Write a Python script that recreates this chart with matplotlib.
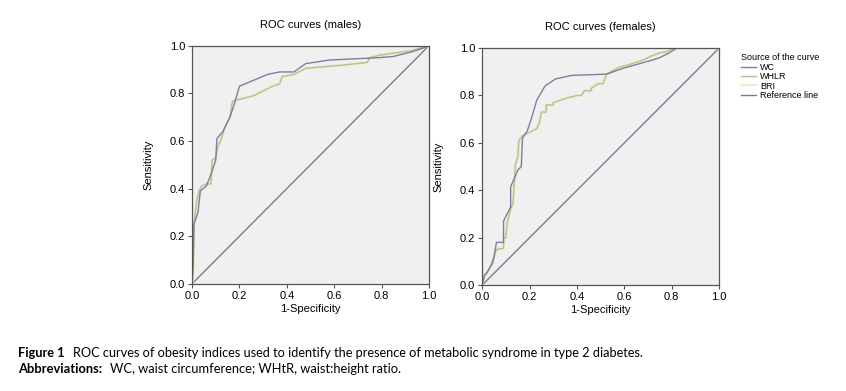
import matplotlib
matplotlib.use("Agg")
import matplotlib.pyplot as plt
from matplotlib.lines import Line2D

plt.rcParams['font.family'] = ['Liberation Sans', 'DejaVu Sans']

# males - WC
m_wc_x = [0.0, 0.005, 0.008, 0.025, 0.035, 0.06, 0.08, 0.10, 0.105, 0.13, 0.16, 0.18, 0.20,
          0.32, 0.37, 0.43, 0.48, 0.58, 0.79, 0.85, 0.93, 0.99, 1.0]
m_wc_y = [0.0, 0.08, 0.25, 0.30, 0.39, 0.41, 0.46, 0.52, 0.61, 0.64, 0.70, 0.76, 0.83,
          0.88, 0.89, 0.89, 0.925, 0.94, 0.95, 0.955, 0.975, 0.995, 1.0]
# males - WHLR (BRI gives the same curve)
m_wh_x = [0.0, 0.005, 0.008, 0.02, 0.03, 0.04, 0.06, 0.08, 0.085, 0.10, 0.11, 0.12, 0.14,
          0.16, 0.17, 0.18, 0.22, 0.26, 0.30, 0.34, 0.37, 0.38, 0.43, 0.48, 0.65, 0.74,
          0.75, 0.79, 0.86, 0.93, 0.96, 1.0]
m_wh_y = [0.0, 0.06, 0.25, 0.35, 0.39, 0.41, 0.42, 0.42, 0.52, 0.53, 0.58, 0.60, 0.66,
          0.70, 0.765, 0.77, 0.78, 0.79, 0.81, 0.83, 0.84, 0.87, 0.88, 0.905, 0.92, 0.93,
          0.95, 0.96, 0.97, 0.98, 0.99, 1.0]

# females - WC
f_wc_x = [0.0, 0.01, 0.025, 0.04, 0.05, 0.06, 0.09, 0.09, 0.10, 0.12, 0.12, 0.14, 0.15,
          0.165, 0.17, 0.19, 0.21, 0.23, 0.265, 0.31, 0.38, 0.525, 0.595, 0.72, 0.75,
          0.79, 0.82, 1.0]
f_wc_y = [0.0, 0.04, 0.06, 0.09, 0.12, 0.18, 0.18, 0.27, 0.29, 0.33, 0.415, 0.46, 0.485,
          0.50, 0.62, 0.65, 0.71, 0.78, 0.84, 0.87, 0.885, 0.89, 0.915, 0.95, 0.96,
          0.98, 1.0, 1.0]
# females - WHLR (BRI gives the same curve)
f_wh_x = [0.0, 0.005, 0.02, 0.03, 0.045, 0.05, 0.06, 0.09, 0.09, 0.10, 0.105, 0.12, 0.13,
          0.14, 0.15, 0.155, 0.17, 0.19, 0.23, 0.24, 0.25, 0.27, 0.27, 0.30, 0.30, 0.33,
          0.36, 0.40, 0.42, 0.43, 0.46, 0.46, 0.49, 0.51, 0.525, 0.58, 0.62, 0.65, 0.68,
          0.71, 0.75, 0.78, 0.81, 1.0]
f_wh_y = [0.0, 0.04, 0.05, 0.07, 0.09, 0.12, 0.15, 0.155, 0.20, 0.20, 0.26, 0.32, 0.345,
          0.51, 0.54, 0.61, 0.63, 0.64, 0.66, 0.68, 0.73, 0.73, 0.76, 0.76, 0.77, 0.78,
          0.79, 0.80, 0.80, 0.82, 0.82, 0.83, 0.85, 0.85, 0.89, 0.92, 0.93, 0.94, 0.95,
          0.965, 0.98, 0.985, 1.0, 1.0]

ticks = [0.0, 0.2, 0.4, 0.6, 0.8, 1.0]
c_wc = '#7c7f9e'
c_wh = '#a9c596'
c_bri = '#eeeecc'
c_ref = '#8a7590'

fig = plt.figure(figsize=(8.46, 3.91), dpi=100)
ax1 = fig.add_axes([0.227, 0.274, 0.280, 0.609])
ax2 = fig.add_axes([0.570, 0.271, 0.280, 0.606])

panels = [(ax1, 'ROC curves (males)', m_wc_x, m_wc_y, m_wh_x, m_wh_y),
          (ax2, 'ROC curves (females)', f_wc_x, f_wc_y, f_wh_x, f_wh_y)]
for ax, title, wx, wy, hx, hy in panels:
    ax.set_facecolor('#f0f0f0')
    ax.plot([0, 1], [0, 1], color=c_ref, lw=1)
    ax.plot(hx, hy, color=c_bri, lw=2.2)
    ax.plot(hx, hy, color=c_wh, lw=1)
    ax.plot(wx, wy, color=c_wc, lw=1)
    ax.set_xlim(0, 1)
    ax.set_ylim(0, 1)
    ax.set_xticks(ticks)
    ax.set_yticks(ticks)
    ax.set_xticklabels(['%.1f' % t for t in ticks])
    ax.set_yticklabels(['%.1f' % t for t in ticks])
    ax.tick_params(labelsize=8, length=3, width=0.8, color='#555555', pad=2)
    for s in ax.spines.values():
        s.set_color('#555555')
        s.set_linewidth(0.9)
    ax.set_title(title, fontsize=8, pad=13)
    ax.set_xlabel('1-Specificity', fontsize=8, labelpad=2)
    ax.set_ylabel('Sensitivity', fontsize=8, labelpad=12)

handles = [Line2D([], [], color=c_wc, lw=1), Line2D([], [], color=c_wh, lw=1),
           Line2D([], [], color=c_bri, lw=1.5), Line2D([], [], color=c_ref, lw=1)]
fig.legend(handles, ['WC', 'WHLR', 'BRI', 'Reference line'], title='Source of the curve',
           loc='upper left', bbox_to_anchor=(0.868, 0.88), frameon=False, fontsize=6.5,
           title_fontsize=6.5, handlelength=1.6, handletextpad=0.5, labelspacing=0.05,
           borderpad=0.2)

# caption, pieces placed at pixel x positions
W, H = 846.0, 391.0
cap = dict(family=['Lato', 'DejaVu Sans'], va='baseline')
fs = 8.6
bold1 = fig.text(18 / W, 1 - 357 / H, 'Figure 1', fontweight='bold', fontsize=fs, **cap)
line1 = fig.text(73 / W, 1 - 357 / H,
                 'ROC curves of obesity indices used to identify the presence of metabolic syndrome in type 2 diabetes.',
                 fontsize=fs, **cap)
bold2 = fig.text(18 / W, 1 - 373 / H, 'Abbreviations:', fontweight='bold', fontsize=fs, **cap)
line2 = fig.text(110 / W, 1 - 373 / H, 'WC, waist circumference; WHtR, waist:height ratio.',
                 fontsize=fs, **cap)
r = fig.canvas.get_renderer()
fs1 = fs * (643 - 73) / line1.get_window_extent(r).width
fs2 = fs * (402 - 110) / line2.get_window_extent(r).width
line1.set_fontsize(fs1)
line2.set_fontsize(fs2)
bold1.set_fontsize(fs1)
bold2.set_fontsize(min(fs2, fs * (105 - 18) / bold2.get_window_extent(r).width))

fig.savefig('out.png', dpi=100)
